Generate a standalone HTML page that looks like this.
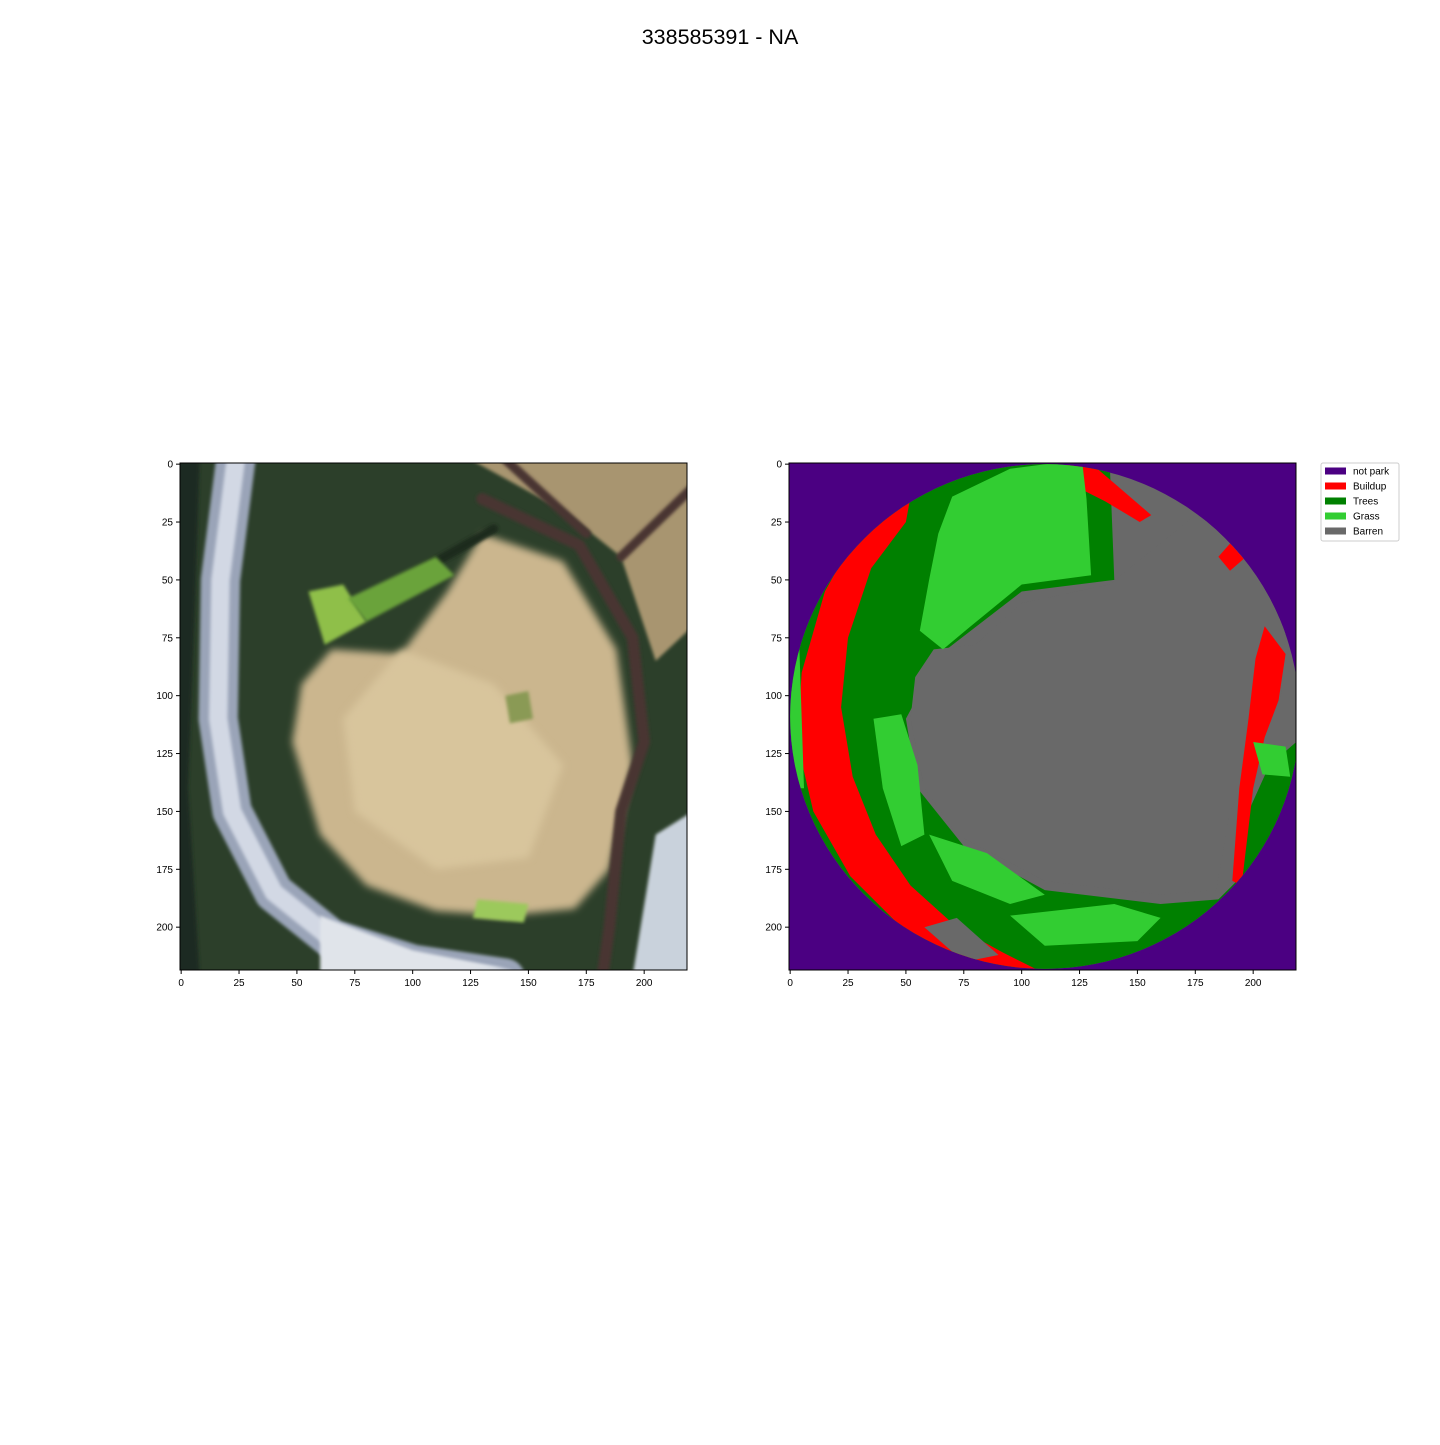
<!DOCTYPE html>
<html><head><meta charset="utf-8">
<style>
body{margin:0;background:#fff;}
svg text{font-family:"Liberation Sans","DejaVu Sans",sans-serif;}
</style></head>
<body>
<svg id="fig" width="1440" height="1440" viewBox="0 0 1440 1440" xmlns="http://www.w3.org/2000/svg">
<rect width="1440" height="1440" fill="#fff"/>
<text x="720" y="44" font-size="21.5" text-anchor="middle">338585391 - NA</text>
<defs>
<clipPath id="clipL"><rect x="180" y="463" width="507" height="507"/></clipPath>
<clipPath id="clipR"><rect x="789" y="463" width="507" height="507"/></clipPath>
<filter id="blur"><feGaussianBlur stdDeviation="4"/></filter>
<filter id="blur2"><feGaussianBlur stdDeviation="1.5"/></filter>
</defs>
<g id="left"></g>
<g id="right"></g>
<g>
<rect x="1321" y="463" width="78" height="78" fill="#fff" stroke="#ccc" stroke-width="1" rx="2"/>
<g id="legend-items"></g>
</g>
</svg>
<script>
const ticks=[0,25,50,75,100,125,150,175,200];
const classes=["not park","Buildup","Trees","Grass","Barren"];
const classColors=["#4b0082","#ff0000","#008000","#32cd32","#696969"];
const NS="http://www.w3.org/2000/svg";
const N=219, SZ=507, Y0=463;
function mk(p,tag,attrs){const e=document.createElementNS(NS,tag);for(const k in attrs)e.setAttribute(k,attrs[k]);p.appendChild(e);return e;}
function pathOf(X,Y,pts,close){return pts.map((p,i)=>(i?"L":"M")+X(p[0]).toFixed(1)+","+Y(p[1]).toFixed(1)).join("")+(close?"Z":"");}
function axes(g,x0,clip,draw){
  const X=v=>x0+(v+0.5)*SZ/N, Y=v=>Y0+(v+0.5)*SZ/N;
  const ig=mk(g,"g",{"clip-path":"url(#"+clip+")"});
  
  
  draw(ig,X,Y);
  const fr=mk(g,"rect",{x:x0,y:Y0,width:SZ,height:SZ,fill:"none",stroke:"#000","stroke-width":1});
  
  
  ticks.forEach(t=>{
    mk(g,"line",{x1:X(t),x2:X(t),y1:Y0+SZ,y2:Y0+SZ+4,stroke:"#000"});
    const tx=mk(g,"text",{x:X(t),y:Y0+SZ+16,"font-size":10,"text-anchor":"middle"});tx.textContent=t;
    
    
    mk(g,"line",{x1:x0-4,x2:x0,y1:Y(t),y2:Y(t),stroke:"#000"});
    const ty=mk(g,"text",{x:x0-7,y:Y(t)+3.5,"font-size":10,"text-anchor":"end"});ty.textContent=t;
    
    
  });
}
axes(document.getElementById("left"),180,"clipL",(g,X,Y)=>{
  const P=(pts,fill,f)=>mk(g,"path",{d:pathOf(X,Y,pts,true),fill:fill,filter:f||"url(#blur2)"});
  const L=(pts,st,w,f)=>mk(g,"path",{d:pathOf(X,Y,pts,false),fill:"none",stroke:st,"stroke-width":w*SZ/N,"stroke-linecap":"round","stroke-linejoin":"round",filter:f||"url(#blur2)"});
  mk(g,"rect",{x:X(-1),y:Y(-1),width:SZ+10,height:SZ+10,fill:"#2c3f2a"});
  P([[125,-2],[221,-2],[221,70],[205,85],[190,40],[165,20]],"#a8956f");
  P([[-2,-2],[8,-2],[6,60],[3,140],[8,221],[-2,221]],"#1e2a22");
  L([[24,-5],[17,50],[16,110],[22,150],[40,185],[65,205],[100,216],[140,222]],"#9aa4b8",17);
  L([[24,-5],[17,50],[16,110],[22,150],[40,185],[65,205],[100,216],[140,222]],"#d2d8e4",8);
  P([[60,195],[100,210],[140,218],[60,221]],"#e0e4ea");
  P([[205,160],[221,150],[221,221],[195,221]],"#c9d2dc");
  P([[130,30],[165,42],[188,80],[195,130],[185,175],[170,192],[140,195],[110,193],[80,182],[60,160],[48,120],[52,95],[65,80],[95,82],[115,55]],"#cbb68e","url(#blur)");
  P([[95,80],[135,95],[165,130],[150,170],[110,175],[75,150],[70,110]],"#d8c59c","url(#blur)");
  L([[130,15],[172,35],[195,75],[200,120],[190,150],[185,200],[182,221]],"#4a3633",5);
  L([[140,-2],[175,30]],"#4a3633",4);
  L([[190,40],[221,10]],"#4a3633",4);
  L([[70,65],[135,28]],"#1f2a1c",4);
  P([[55,55],[70,52],[80,68],[62,78]],"#8fbf4a");
  P([[72,58],[110,40],[118,48],[80,68]],"#6aa33a");
  P([[128,188],[150,190],[148,198],[126,196]],"#9cc95c");
  P([[140,100],[150,98],[152,110],[142,112]],"#8a9a55");
});
axes(document.getElementById("right"),789,"clipR",(g,X,Y)=>{
  mk(g,"rect",{x:X(-1),y:Y(-1),width:SZ+10,height:SZ+10,fill:classColors[0]});
  const cp=mk(g,"clipPath",{id:"disk"});
  mk(cp,"ellipse",{cx:X(110),cy:Y(109),rx:110*SZ/N,ry:109*SZ/N});
  const d=mk(g,"g",{"clip-path":"url(#disk)"});
  const Q=(pts,c,n)=>{const e=mk(d,"path",{d:pathOf(X,Y,pts,true),fill:classColors[c]});};
  mk(d,"rect",{x:X(-1),y:Y(-1),width:SZ+10,height:SZ+10,fill:classColors[4]});
  Q([[-2,-2],[138,-2],[140,50],[100,55],[65,82],[50,110],[55,140],[75,165],[110,184],[160,190],[185,188],[195,178],[198,150],[207,130],[221,118],[221,221],[-2,221]],2,"trees-region");
  Q([[138,52],[175,22],[200,30],[215,60],[212,100],[200,130],[190,150],[184,184],[160,186],[110,180],[72,160],[58,140],[52,110],[54,92],[62,80],[80,78],[100,60]],4,"barren-center");
  Q([[52,14],[30,28],[15,55],[5,90],[3,120],[10,150],[26,178],[48,200],[70,214],[100,221],[112,221],[92,211],[72,200],[52,182],[37,160],[27,135],[22,105],[25,75],[35,45],[50,25]],1,"buildup-left-band");
  Q([[58,200],[72,196],[90,212],[75,215]],4,"barren-south");
  Q([[205,70],[214,82],[211,102],[205,118],[200,140],[195,182],[191,180],[194,140],[198,110],[201,84]],1,"buildup-right-strip");
  Q([[118,-2],[128,-2],[142,10],[156,22],[151,25],[136,16],[124,10]],1,"buildup-north");
  Q([[185,40],[192,32],[197,40],[190,46]],1,"buildup-ne");
  Q([[70,14],[95,2],[126,-2],[128,15],[130,48],[100,52],[78,70],[66,80],[56,72],[60,50],[64,30]],3,"grass-north");
  Q([[36,110],[48,108],[55,130],[58,160],[48,165],[40,140]],3,"grass-west");
  Q([[60,160],[85,168],[110,186],[95,190],[70,180]],3,"grass-southwest");
  Q([[95,195],[140,190],[160,196],[150,206],[110,208]],3,"grass-south");
  Q([[200,120],[214,122],[216,135],[204,134]],3,"grass-east");
  Q([[-2,80],[4,80],[6,140],[-2,140]],3,"grass-west-edge");
});
const lg=document.getElementById("legend-items");
classes.forEach((c,i)=>{
  const y=471+i*15;
  const r=mk(lg,"rect",{x:1325,y:y-3.5,width:21,height:7,fill:classColors[i]});
  
  
  const t=mk(lg,"text",{x:1353,y:y+3.5,"font-size":10});t.textContent=c;
  
  
});
</script>
</body></html>
